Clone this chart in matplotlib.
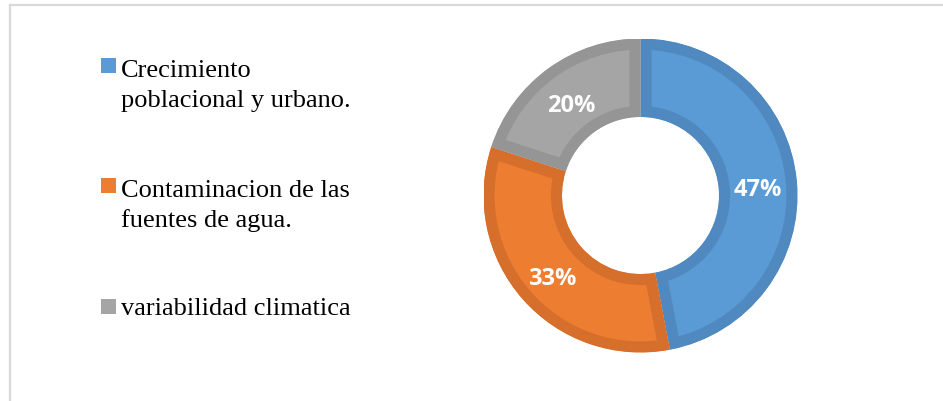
import matplotlib.pyplot as plt
from matplotlib.patches import Rectangle

# Data
labels = ['Crecimiento\npoblacional y urbano.',
          'Contaminacion de las\nfuentes de agua.',
          'variabilidad climatica']
values = [47, 33, 20]
colors = ['#5B9BD5', '#ED7D31', '#A5A5A5']
edge_colors = ['#4F89C0', '#D66F2C', '#959595']

W, H = 943, 402
fig = plt.figure(figsize=(W / 100, H / 100), dpi=100)

# light grey frame (top and left edges visible)
fig.add_artist(plt.Line2D([10 / W, 1], [1 - 5.5 / H, 1 - 5.5 / H], color='#D9D9D9', lw=1.6))
fig.add_artist(plt.Line2D([10 / W, 10 / W], [0, 1 - 5.5 / H], color='#D9D9D9', lw=1.6))

# donut
cx, cy, r = 640.5, 196.5, 157
ax = fig.add_axes([(cx - r) / W, (H - cy - r) / H, 2 * r / W, 2 * r / H])
wedges, texts, autotexts = ax.pie(values, colors=colors, startangle=90, counterclock=False,
                                  radius=1, autopct='%d%%', pctdistance=0.75,
                                  wedgeprops=dict(width=0.5))
for w, ec in zip(wedges, edge_colors):
    w.set_edgecolor(ec)
    w.set_linewidth(16)
    w.set_clip_on(True)
    w.set_clip_path(w)  # keep the border inside each wedge
for t in autotexts:
    t.set_color('white')
    t.set_fontweight('bold')
    t.set_fontsize(17)
    t.set_family('Open Sans')
    x, y = t.get_position()
    t.set_position((x, y - 0.03))
ax.set_xlim(-1, 1)
ax.set_ylim(-1, 1)
ax.axis('off')

# legend on the left
first_baselines = [77, 197, 315]
box_tops = [59, 179, 300]
for lab, col, yb, yt in zip(labels, colors, first_baselines, box_tops):
    fig.add_artist(Rectangle((101 / W, 1 - (yt + 15) / H), 15 / W, 15 / H,
                             facecolor=col, edgecolor='none', transform=fig.transFigure))
    for i, line in enumerate(lab.split('\n')):
        fig.text(121 / W, 1 - (yb + i * 30) / H, line, family='Liberation Serif',
                 fontsize=19, va='baseline', ha='left', color='black')

fig.savefig('out.png', dpi=100)
